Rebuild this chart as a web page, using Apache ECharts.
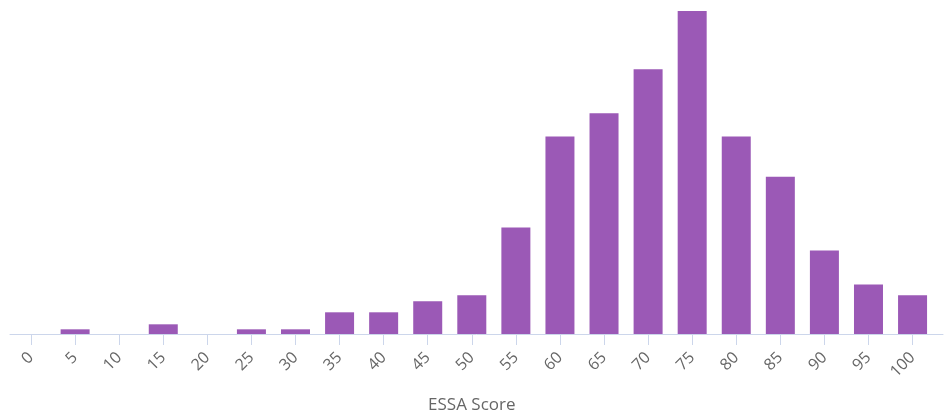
<!DOCTYPE html>
<html>
<head>
<meta charset="utf-8">
<script src="https://cdn.jsdelivr.net/npm/echarts@6/dist/echarts.min.js"></script>
<style>html,body{margin:0;padding:0;background:#fff;}#c{width:952px;height:417px;}</style>
</head>
<body>
<div id="c"></div>
<script>
const categories = ['0','5','10','15','20','25','30','35','40','45','50','55','60','65','70','75','80','85','90','95','100'];
const counts = [0, 0.87, 0, 1.8, 0, 0.87, 0.87, 4.03, 4.03, 6.07, 7.19, 19.8, 36.7, 41.0, 49.2, 60, 36.7, 29.2, 15.5, 9.2, 7.2];
const axisTitle = 'ESSA Score';

const chart = echarts.init(document.getElementById('c'), null, {renderer: 'canvas'});
chart.setOption({
  animation: false,
  grid: [
    {left: 9, right: 17.4, top: 11, bottom: 83, containLabel: false, outerBoundsMode: 'none'},
    {left: 10, right: 9, top: 11, bottom: 83, containLabel: false, outerBoundsMode: 'none'}
  ],
  xAxis: [
    {
      type: 'category', gridIndex: 0, data: categories,
      axisLine: {show: false},
      axisTick: {show: true, alignWithLabel: true, length: 11, lineStyle: {color: '#ccd6eb', width: 1}},
      axisLabel: {rotate: 45, margin: 21, color: '#666666', fontSize: 16, fontFamily: '"Open Sans", sans-serif', interval: 0},
      name: axisTitle, nameLocation: 'middle', nameGap: 63,
      nameTextStyle: {color: '#666666', fontSize: 17, fontFamily: '"Open Sans", sans-serif'}
    },
    {
      type: 'value', gridIndex: 1, min: 0, max: 1,
      axisLine: {show: true, onZero: false, lineStyle: {color: '#ccd6eb', width: 1}},
      axisTick: {show: false}, axisLabel: {show: false}, splitLine: {show: false}
    }
  ],
  yAxis: [
    {type: 'value', gridIndex: 0, min: 0, max: 60, show: false, splitLine: {show: false}},
    {type: 'value', gridIndex: 1, min: 0, max: 1, show: false}
  ],
  series: [{
    type: 'bar', xAxisIndex: 0, yAxisIndex: 0, data: counts,
    barWidth: 29,
    itemStyle: {color: '#9b59b6'}
  }]
});
</script>
</body>
</html>
